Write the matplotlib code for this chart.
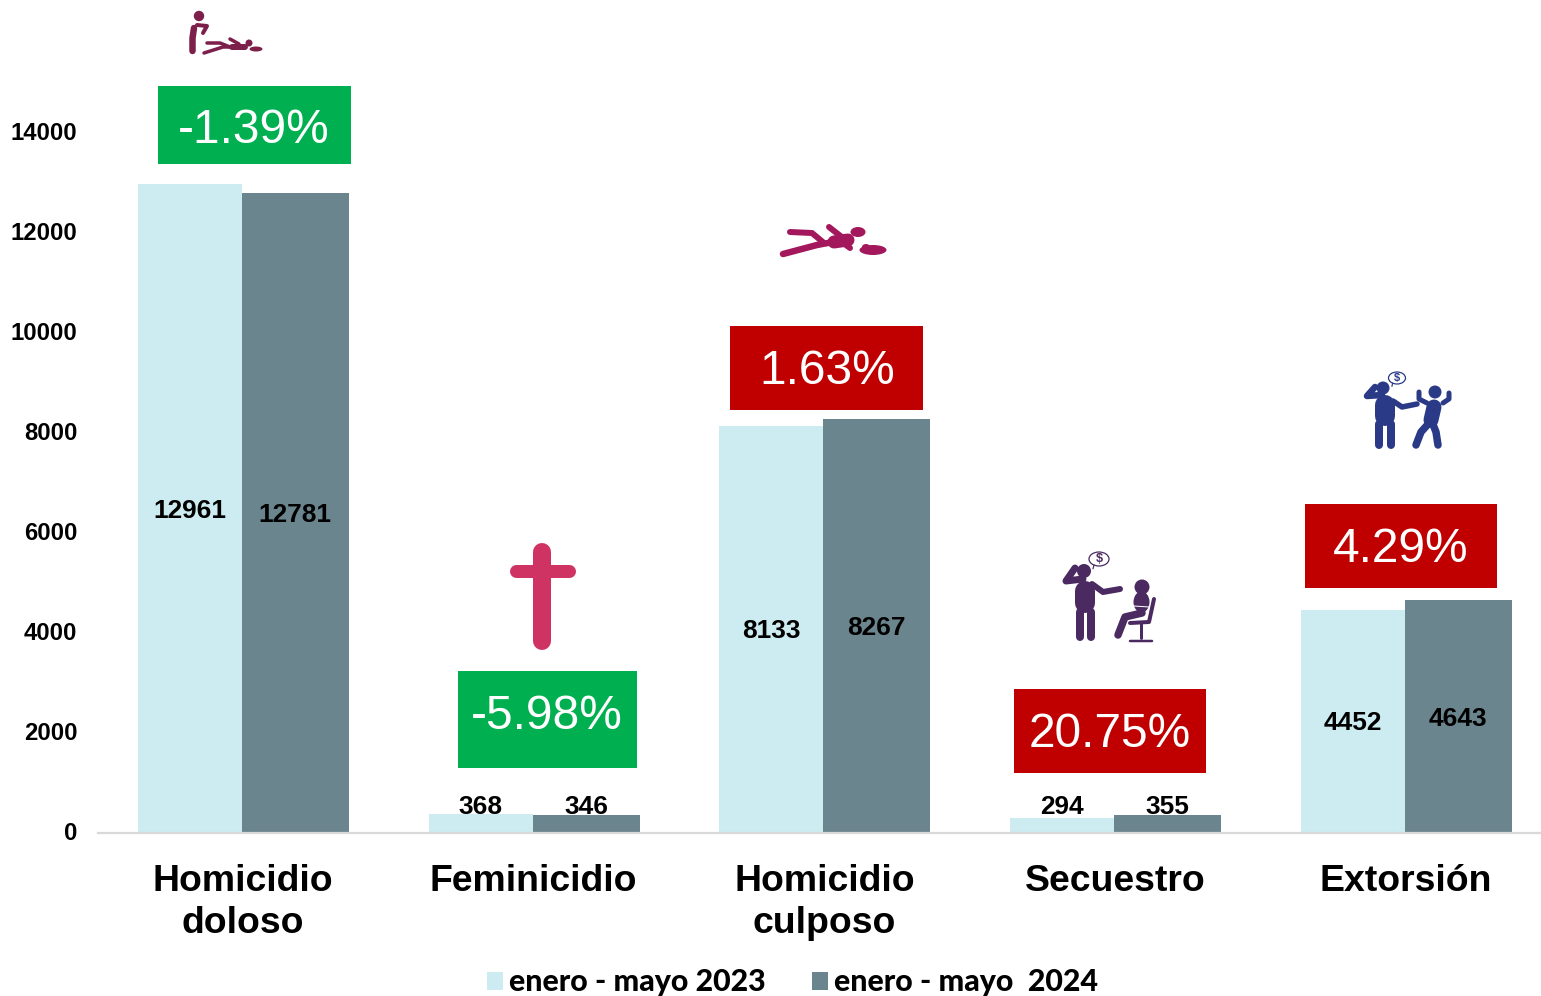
import numpy as np
import matplotlib
matplotlib.use("Agg")
import matplotlib.pyplot as plt
from matplotlib.patches import Rectangle, Circle, Ellipse
from matplotlib.transforms import ScaledTranslation

categories = ["Homicidio\ndoloso", "Feminicidio", "Homicidio\nculposo", "Secuestro", "Extorsión"]
values_2023 = [12961, 368, 8133, 294, 4452]
values_2024 = [12781, 346, 8267, 355, 4643]
changes = ["-1.39%", "-5.98%", "1.63%", "20.75%", "4.29%"]
yticks = [0, 2000, 4000, 6000, 8000, 10000, 12000, 14000]
legend_labels = ["enero - mayo 2023", "enero - mayo  2024"]

W, H = 1541, 996
C_LIGHT, C_DARK = "#CDECF1", "#6B858E"
GREEN, RED = "#00B050", "#C00000"
plt.rcParams["font.family"] = ["Liberation Sans", "DejaVu Sans"]

fig = plt.figure(figsize=(W / 100, H / 100), dpi=100, facecolor="white")
ax = fig.add_axes([98 / W, (H - 832.5) / H, (W - 98) / W, 832.5 / H])
x = np.arange(5)
spacing = 290.75
w1, w2 = 104 / spacing, 107 / spacing
b1 = ax.bar(x - w1, values_2023, w1, align="edge", color=C_LIGHT, label=legend_labels[0])
b2 = ax.bar(x, values_2024, w2, align="edge", color=C_DARK, label=legend_labels[1])
ax.set_xlim(-(241.8 - 98) / spacing, (1541 - 241.8) / spacing)
ax.set_ylim(0, 832.5 * 20)

for bars in (b1, b2):
    for r in bars:
        v = r.get_height()
        cx = r.get_x() + r.get_width() / 2
        if v > 1000:
            ax.text(cx, v / 2 - 45, str(int(v)), ha="center", va="center",
                    fontsize=18.9, fontweight="bold", color="black")
        else:
            ax.text(cx, 510, str(int(v)), ha="center", va="center",
                    fontsize=18.9, fontweight="bold", color="black")

for s in ("top", "right", "left"):
    ax.spines[s].set_visible(False)
ax.spines["bottom"].set_color("#D9D9D9")
ax.spines["bottom"].set_linewidth(1.6)
ax.set_yticks(yticks)
ax.set_yticklabels([str(t) for t in yticks], fontsize=17.2, fontweight="bold")
ax.tick_params(axis="y", length=0, pad=15)
for lbl in ax.get_yticklabels():
    lbl.set_transform(lbl.get_transform() + ScaledTranslation(0, 1.5 / 100, fig.dpi_scale_trans))
ax.set_xticks(x + 0.004)
ax.set_xticklabels(categories, fontsize=26.9, fontweight="bold", linespacing=1.26)
ax.tick_params(axis="x", length=0, pad=22.5)

leg = fig.legend(handles=[b1, b2], labels=legend_labels, loc="lower left",
                 bbox_to_anchor=(479 / W, -8 / H), ncol=2, frameon=False,
                 prop={"family": "Lato", "weight": "black", "size": 21.9},
                 handlelength=0.53, handleheight=0.53, handletextpad=0.2,
                 columnspacing=1.53, borderpad=0.25, borderaxespad=0)

# overlay in pixel coordinates for the annotation boxes and pictograms
ov = fig.add_axes([0, 0, 1, 1], facecolor="none")
ov.set_xlim(0, W)
ov.set_ylim(H, 0)
ov.axis("off")

boxes = [(158, 86, 351, 164, 254, 130), (458, 671, 637, 768, 547, 716),
         (730, 326, 923, 410, 827, 371), (1014, 689, 1206, 773, 1110, 734),
         (1305, 504, 1497, 588, 1401, 549)]
for (l, t, r, btm, tx, ty), s in zip(boxes, changes):
    ov.add_patch(Rectangle((l, t), r - l, btm - t, color=GREEN if s.startswith("-") else RED, lw=0))
    ov.text(tx, ty, s, color="white", fontsize=34.5, ha="center", va="center")


def ln(pts, w, c):
    xs, ys = zip(*pts)
    ov.plot(xs, ys, color=c, lw=w * 0.72, solid_capstyle="round", solid_joinstyle="round")


def dot(cx, cy, r, c):
    ov.add_patch(Circle((cx, cy), r, color=c, lw=0))


def ell(cx, cy, w, h, c):
    ov.add_patch(Ellipse((cx, cy), w, h, color=c, lw=0))


def bubble(cx, cy, w, h, c, fs):
    ov.add_patch(Ellipse((cx, cy), w, h, fc="white", ec=c, lw=0.9))
    ln([(cx - w * 0.25, cy + h * 0.42), (cx - w * 0.3, cy + h * 0.7)], 1.2, c)
    ov.text(cx, cy, "$", color=c, fontsize=fs, fontweight="bold", ha="center", va="center")


# man standing over a body
c = "#7D1F4B"
dot(199, 16, 5.2, c)
ln([(194, 28), (192.5, 38), (192.5, 51)], 6.5, c)
ln([(197, 25), (207, 26), (203, 33)], 4, c)
ln([(204, 53), (223, 47), (235, 47)], 3.5, c)
ln([(207, 43), (220, 43), (230, 47)], 3.5, c)
ln([(230, 39), (239, 44)], 3.5, c)
ln([(232, 47), (245, 47)], 6, c)
dot(249, 43, 3.5, c)
ell(256, 49, 13, 5, c)

# body on the ground
c = "#A3175C"
ln([(783, 254), (817, 245), (833, 242)], 6.5, c)
ln([(790, 232), (812, 233), (824, 243)], 6, c)
ln([(834, 242), (848, 240)], 13, c)
ln([(829, 227), (843, 238)], 6, c)
ln([(842, 242), (850, 248)], 6, c)
ell(858, 232, 15, 10, c)
ell(873, 250, 27, 10, c)
ell(866, 247, 8, 6, c)

# cross
c = "#CF3363"
ln([(542, 552), (542, 641)], 18, c)
ln([(516, 571), (569, 571)], 13, c)

# kidnapping
c = "#4A2A60"
dot(1084, 571, 7, c)
ln([(1085, 591), (1085, 603)], 20, c)
ln([(1080, 612), (1080, 637)], 8, c)
ln([(1091, 612), (1091, 637)], 8, c)
ln([(1083, 579), (1066, 581), (1075, 568)], 7, c)
ln([(1092, 584), (1103, 592), (1120, 589)], 6, c)
bubble(1099, 559, 20, 14, c, 9)
dot(1142, 587, 7.5, c)
ell(1141.5, 602, 16, 21, c)
ln([(1142, 613), (1125, 617), (1118, 635)], 7.5, c)
ln([(1134, 606), (1149, 607)], 1, "white")
ln([(1154, 599), (1149, 622), (1130, 623)], 4, c)
ln([(1141, 623), (1141, 638)], 3, c)
ln([(1130, 641), (1152, 641)], 2.5, c)

# extortion
c = "#2B3A86"
dot(1383, 388, 6.5, c)
ln([(1385, 405), (1385, 416)], 20, c)
ln([(1379.5, 424), (1379.5, 445)], 8, c)
ln([(1391, 424), (1391, 445)], 8, c)
ln([(1382, 395), (1367, 396), (1375, 387)], 6.5, c)
ln([(1393, 401), (1402, 407), (1417, 404)], 5.5, c)
bubble(1397, 378, 17, 12, c, 8)
dot(1435, 392, 6.5, c)
ln([(1434, 407), (1431, 420)], 15, c)
ln([(1430, 422), (1421, 432), (1416, 445)], 7.5, c)
ln([(1432, 422), (1436, 432), (1438, 445)], 7.5, c)
ln([(1427, 403), (1419, 399), (1419, 392)], 5, c)
ln([(1443, 403), (1449, 399), (1449, 393)], 5, c)

fig.savefig("out.png", dpi=100)
